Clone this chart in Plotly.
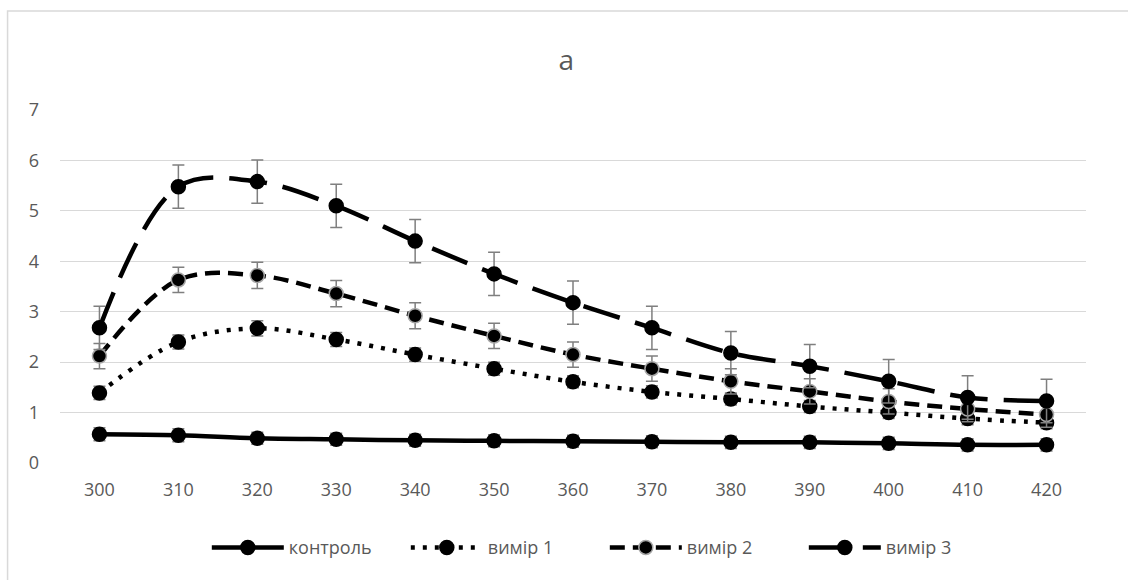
import plotly.graph_objects as go

wavelengths = ["300", "310", "320", "330", "340", "350", "360", "370", "380", "390", "400", "410", "420"]

kontrol = [0.57, 0.55, 0.49, 0.47, 0.45, 0.44, 0.43, 0.42, 0.41, 0.41, 0.39, 0.36, 0.36]
kontrol_err = [0.13, 0.13, 0.12, 0.12, 0.12, 0.12, 0.12, 0.12, 0.12, 0.12, 0.12, 0.12, 0.12]

vymir1 = [1.39, 2.40, 2.67, 2.45, 2.15, 1.87, 1.61, 1.41, 1.27, 1.12, 1.00, 0.88, 0.80]
vymir1_err = [0.13, 0.14, 0.15, 0.14, 0.13, 0.13, 0.12, 0.12, 0.12, 0.12, 0.12, 0.12, 0.12]

vymir2 = [2.12, 3.63, 3.72, 3.36, 2.92, 2.52, 2.15, 1.87, 1.62, 1.42, 1.22, 1.07, 0.96]
vymir2_err = [0.25, 0.25, 0.26, 0.26, 0.26, 0.25, 0.25, 0.25, 0.25, 0.25, 0.25, 0.25, 0.25]

vymir3 = [2.68, 5.48, 5.58, 5.10, 4.40, 3.75, 3.18, 2.68, 2.18, 1.92, 1.62, 1.30, 1.23]
vymir3_err = [0.43, 0.43, 0.43, 0.43, 0.43, 0.43, 0.43, 0.43, 0.43, 0.43, 0.43, 0.43, 0.43]

series = [
    ("контроль", kontrol, kontrol_err, "solid", "#000000"),
    ("вимір 1", vymir1, vymir1_err, "4px,8px", "#000000"),
    ("вимір 2", vymir2, vymir2_err, "15px,8px", "#a6a6a6"),
    ("вимір 3", vymir3, vymir3_err, "38px,16px", "#000000"),
]

fig = go.Figure()
for name, vals, errs, dash, mline in series:
    fig.add_trace(go.Scatter(
        x=wavelengths, y=vals, name=name, mode="lines+markers",
        line=dict(color="#000000", width=4.5, dash=dash, shape="spline", smoothing=1),
        marker=dict(symbol="circle", size=14, color="#000000",
                    line=dict(color=mline, width=1.5)),
        error_y=dict(type="data", array=errs, visible=True,
                     color="#7f7f7f", thickness=1.5, width=6),
    ))

fig.update_layout(
    width=1128, height=580,
    paper_bgcolor="white", plot_bgcolor="white",
    margin=dict(l=59.5, r=41.5, t=110, b=117),
    title=dict(text="a", x=0.502, xanchor="center", y=0.897, yanchor="middle",
               font=dict(family="Open Sans", size=28, color="#595959")),
    font=dict(family="Open Sans", size=18, color="#595959"),
    xaxis=dict(type="category", range=[-0.5, 12.5], showgrid=False, zeroline=False,
               showline=False, ticks="", ticklabelstandoff=14,
               tickfont=dict(size=18, color="#595959")),
    yaxis=dict(range=[0, 7], dtick=1, showgrid=True, gridcolor="#d9d9d9", gridwidth=1.3,
               zeroline=False, showline=False, ticks="", ticklabelstandoff=20,
               tickfont=dict(size=18, color="#595959")),
    legend=dict(orientation="h", x=0.531, xanchor="center", y=-0.24, yanchor="middle",
                font=dict(size=18, color="#595959"), itemwidth=72, traceorder="normal",
                entrywidth=112, entrywidthmode="pixels"),
    showlegend=True,
    shapes=[dict(type="rect", xref="paper", yref="paper",
                 x0=-0.0511, x1=1.2, y0=-0.5, y1=1.2805,
                 line=dict(color="#d9d9d9", width=1.5), layer="below")],
)

fig.write_html("out.html")
